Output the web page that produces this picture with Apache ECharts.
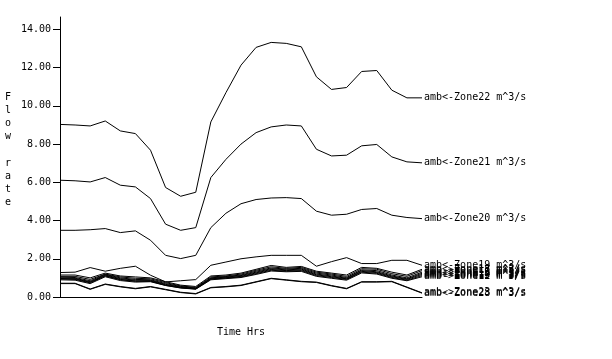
<!DOCTYPE html>
<html><head><meta charset="utf-8">
<script src="https://cdn.jsdelivr.net/npm/echarts@6/dist/echarts.min.js"></script>
<style>html,body{margin:0;padding:0;background:#fff}#c{width:612px;height:359px}</style>
</head><body><div id="c"></div>
<script>
const hours = [0,1,2,3,4,5,6,7,8,9,10,11,12,13,14,15,16,17,18,19,20,21,22,23,24];
const yTicks = [0,2,4,6,8,10,12,14];
const yTitle = "Flow rate";
const xTitle = "Time Hrs";

const zone22 = [9.03,9.0,8.95,9.21,8.69,8.55,7.68,5.73,5.27,5.48,9.16,10.69,12.13,13.06,13.32,13.27,13.09,11.52,10.86,10.96,11.80,11.85,10.82,10.42,10.42];
const zone21 = [6.11,6.08,6.02,6.25,5.85,5.76,5.15,3.81,3.49,3.63,6.25,7.2,8.0,8.6,8.9,9.0,8.95,7.73,7.38,7.42,7.91,7.98,7.33,7.07,7.02];
const zone20 = [3.49,3.49,3.52,3.58,3.37,3.46,2.97,2.18,2.01,2.18,3.63,4.38,4.88,5.10,5.18,5.20,5.15,4.49,4.28,4.33,4.58,4.63,4.28,4.16,4.10];
const zone19 = [1.28,1.30,1.54,1.35,1.50,1.61,1.14,0.79,0.85,0.91,1.66,1.83,2.0,2.1,2.18,2.18,2.18,1.61,1.85,2.06,1.75,1.75,1.92,1.92,1.66];
const zone18 = [1.15,1.15,1.0,1.25,1.1,1.05,1.0,0.8,0.62,0.55,1.1,1.15,1.25,1.45,1.65,1.55,1.6,1.35,1.25,1.15,1.55,1.5,1.3,1.15,1.45];
const zone17 = [1.08,1.08,0.92,1.2,1.05,0.98,0.95,0.75,0.58,0.5,1.05,1.1,1.2,1.4,1.58,1.5,1.55,1.3,1.2,1.08,1.48,1.45,1.22,1.08,1.38];
const zone16 = [1.04,1.02,0.85,1.18,1.0,0.92,0.9,0.7,0.55,0.47,1.0,1.07,1.15,1.35,1.52,1.46,1.5,1.25,1.15,1.02,1.42,1.38,1.15,1.0,1.3];
const zone15 = [1.0,0.98,0.8,1.15,0.96,0.88,0.87,0.66,0.52,0.45,0.98,1.04,1.12,1.3,1.48,1.42,1.46,1.2,1.1,0.98,1.38,1.32,1.1,0.95,1.24];
const zone14 = [0.97,0.95,0.77,1.12,0.92,0.84,0.84,0.63,0.5,0.43,0.95,1.01,1.08,1.26,1.44,1.38,1.42,1.16,1.06,0.95,1.34,1.28,1.06,0.92,1.18];
const zone13 = [0.94,0.92,0.74,1.1,0.9,0.82,0.82,0.61,0.48,0.42,0.93,0.99,1.05,1.22,1.4,1.35,1.38,1.12,1.02,0.92,1.3,1.24,1.02,0.88,1.12];
const zone12 = [0.9,0.88,0.7,1.06,0.86,0.78,0.8,0.6,0.47,0.41,0.9,0.96,1.02,1.18,1.36,1.32,1.34,1.08,0.98,0.88,1.26,1.2,0.98,0.85,1.06];
const zone23 = [0.72,0.72,0.42,0.68,0.55,0.45,0.55,0.4,0.25,0.18,0.5,0.55,0.62,0.8,0.98,0.9,0.82,0.78,0.6,0.45,0.8,0.8,0.82,0.52,0.22];
const zone28 = [0.70,0.70,0.40,0.66,0.53,0.43,0.53,0.38,0.23,0.16,0.48,0.53,0.60,0.78,0.96,0.88,0.80,0.76,0.58,0.43,0.78,0.78,0.80,0.50,0.20];

const seriesNames = ["amb<-Zone22 m^3/s","amb<-Zone21 m^3/s","amb<-Zone20 m^3/s","amb<-Zone19 m^3/s","amb<-Zone18 m^3/s","amb->Zone17 m^3/s","amb->Zone16 m^3/s","amb<-Zone15 m^3/s","amb->Zone14 m^3/s","amb<-Zone13 m^3/s","amb->Zone12 m^3/s","amb->Zone23 m^3/s","amb<-Zone28 m^3/s"];
const seriesValues = [zone22,zone21,zone20,zone19,zone18,zone17,zone16,zone15,zone14,zone13,zone12,zone23,zone28];

const mono = "'DejaVu Sans Mono', 'Liberation Mono', monospace";
const chart = echarts.init(document.getElementById('c'), null, {renderer:'canvas'});
chart.setOption({
  animation: false,
  backgroundColor: '#fff',
  grid: {left: 60, top: 17, right: 190, bottom: 62, containLabel: false},
  xAxis: {
    type: 'value', min: 0, max: 24,
    name: xTitle, nameLocation: 'middle', nameGap: 30,
    nameTextStyle: {fontFamily: mono, fontSize: 10, color: '#000'},
    axisLine: {show: true, lineStyle: {color: '#000', width: 1}},
    axisTick: {show: false}, axisLabel: {show: false}, splitLine: {show: false}
  },
  yAxis: {
    type: 'value', min: 0, max: 14.65,
    axisLine: {show: true, lineStyle: {color: '#000', width: 1}},
    axisTick: {show: true, length: 7, customValues: yTicks, lineStyle: {color: '#000'}},
    axisLabel: {show: true, customValues: yTicks, margin: 9, fontFamily: mono, fontSize: 10, color: '#000',
      formatter: v => v.toFixed(2)},
    splitLine: {show: false}
  },
  graphic: [{
    type: 'text', left: 5, top: 91,
    style: {text: yTitle.split('').join('\n'), font: "10px " + mono, fill: '#000', lineHeight: 13.1, align: 'center'}
  }],
  series: seriesValues.map((vals, k) => ({
    type: 'line', name: seriesNames[k],
    data: hours.map((h, i) => [h, vals[i]]),
    showSymbol: false, symbol: 'none',
    lineStyle: {color: '#000', width: 1},
    itemStyle: {color: '#000'},
    endLabel: {show: true, formatter: seriesNames[k], fontFamily: mono, fontSize: 10, color: '#000', distance: 2},
    emphasis: {disabled: true}
  }))
});
</script></body></html>
